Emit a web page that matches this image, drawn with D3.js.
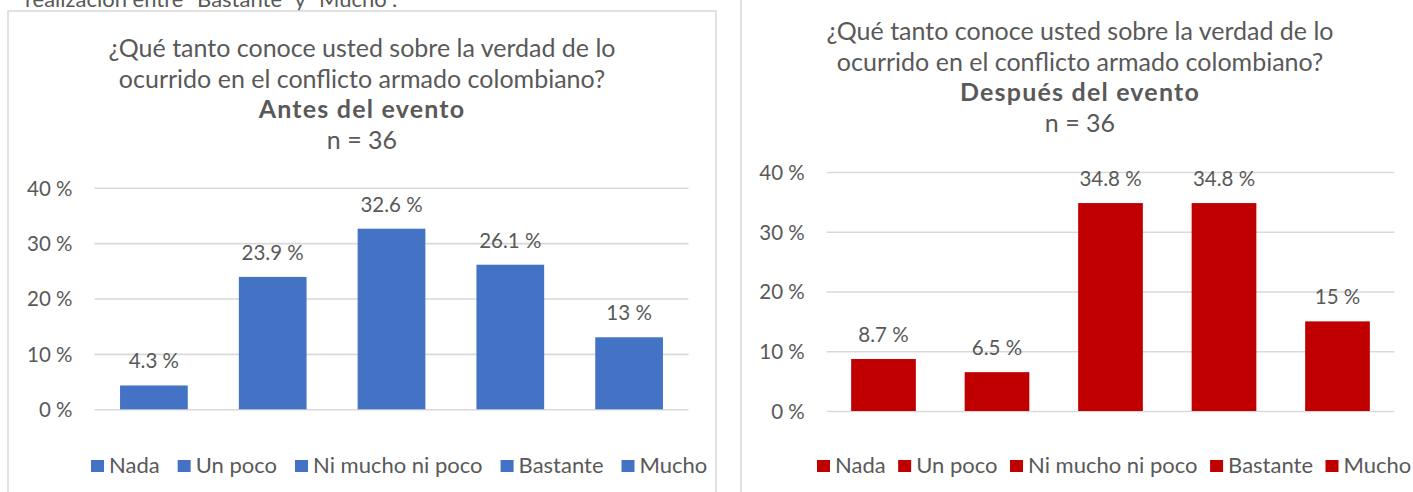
<!DOCTYPE html>
<html>
<head>
<meta charset="utf-8">
<script src="https://cdn.jsdelivr.net/npm/d3@7"></script>
<style>
  body { margin: 0; background: #fff; }
  svg { display: block; font-family: Lato, "Open Sans", "Noto Sans", sans-serif; }
</style>
</head>
<body>
<svg id="chart" width="1413" height="492"></svg>
<script>
// ---------- data ----------
const categories = ["Nada", "Un poco", "Ni mucho ni poco", "Bastante", "Mucho"];
const antesValues = [4.3, 23.9, 32.6, 26.1, 13];
const despuesValues = [8.7, 6.5, 34.8, 34.8, 15];
const yTickValues = [0, 10, 20, 30, 40];
const questionLines = ["¿Qué tanto conoce usted sobre la verdad de lo", "ocurrido en el conflicto armado colombiano?"];
const antesSubtitle = "Antes del evento";
const despuesSubtitle = "Después del evento";
const sampleLabel = "n = 36";
const cutCaption = "realización entre “Bastante” y “Mucho”.";

// ---------- layout / style ----------
const textColor = "#595959";
const gridColor = "#d9d9d9";
const svg = d3.select("#chart");

// partially visible caption from the page above the charts
svg.append("text")
  .attr("x", 25).attr("y", 7)
  .attr("font-size", 22).attr("fill", textColor)
  .text(cutCaption);

const panels = [
  {
    values: antesValues, subtitle: antesSubtitle, color: "#4472C4",
    box: { x: 8, y: 11, w: 708, h: 500 },
    titleCx: 362, titleY: 57,
    plot: { x0: 94.5, x1: 688.5, yBottom: 409.3, yTop: 187.7 },
    legendX: 91, legendGap: 18
  },
  {
    values: despuesValues, subtitle: despuesSubtitle, color: "#C00000",
    box: { x: 741, y: -20, w: 700, h: 530 },
    titleCx: 1080, titleY: 40,
    plot: { x0: 826.75, x1: 1394.25, yBottom: 411, yTop: 172 },
    legendX: 817, legendGap: 12.5
  }
];

panels.forEach(p => {
  const g = svg.append("g");

  // chart border
  g.append("rect")
    .attr("x", p.box.x).attr("y", p.box.y)
    .attr("width", p.box.w).attr("height", p.box.h)
    .attr("fill", "none").attr("stroke", gridColor).attr("stroke-width", 1.5);

  // title
  const titleLines = [...questionLines, p.subtitle, sampleLabel];
  g.selectAll("text.title").data(titleLines).join("text")
    .attr("class", "title")
    .attr("x", p.titleCx)
    .attr("y", (d, i) => p.titleY + i * 30.5)
    .attr("text-anchor", "middle")
    .attr("font-size", (d, i) => i === 2 ? 25 : 25)
    .attr("font-weight", (d, i) => i === 2 ? "bold" : "normal")
    .attr("letter-spacing", (d, i) => i === 2 ? 1.2 : 0)
    .attr("fill", textColor)
    .text(d => d);

  // scales
  const x = d3.scaleBand().domain(categories)
    .range([p.plot.x0, p.plot.x1]).paddingInner(0.43).paddingOuter(0.215);
  const y = d3.scaleLinear().domain([0, 40]).range([p.plot.yBottom, p.plot.yTop]);

  // y axis with gridlines
  const axis = g.append("g")
    .attr("transform", `translate(${p.plot.x0},0)`)
    .call(d3.axisLeft(y).tickValues(yTickValues)
      .tickSize(-(p.plot.x1 - p.plot.x0))
      .tickPadding(22)
      .tickFormat(d => `${d} %`));
  axis.select(".domain").remove();
  axis.selectAll(".tick line").attr("stroke", gridColor).attr("stroke-width", 1.6);
  axis.selectAll(".tick text")
    .attr("fill", textColor).attr("font-size", 20.5)
    .attr("font-family", "Lato, sans-serif").attr("dy", "0.36em");

  // bars
  const data = categories.map((c, i) => ({ c, v: p.values[i] }));
  g.selectAll("rect.bar").data(data).join("rect")
    .attr("class", "bar")
    .attr("x", d => x(d.c)).attr("width", x.bandwidth())
    .attr("y", d => y(d.v)).attr("height", d => y(0) - y(d.v))
    .attr("fill", p.color);

  // data labels
  g.selectAll("text.lbl").data(data).join("text")
    .attr("class", "lbl")
    .attr("x", d => x(d.c) + x.bandwidth() / 2)
    .attr("y", d => y(d.v) - 17)
    .attr("text-anchor", "middle")
    .attr("font-size", 20.5).attr("fill", textColor)
    .text(d => `${d.v} %`);

  // legend
  let lx = p.legendX;
  categories.forEach(c => {
    g.append("rect")
      .attr("x", lx).attr("y", 460).attr("width", 13).attr("height", 12)
      .attr("fill", p.color);
    const t = g.append("text")
      .attr("x", lx + 18).attr("y", 473)
      .attr("font-size", 22).attr("fill", textColor)
      .text(c);
    lx = lx + 18 + t.node().getComputedTextLength() + p.legendGap;
  });
});
</script>
</body>
</html>
